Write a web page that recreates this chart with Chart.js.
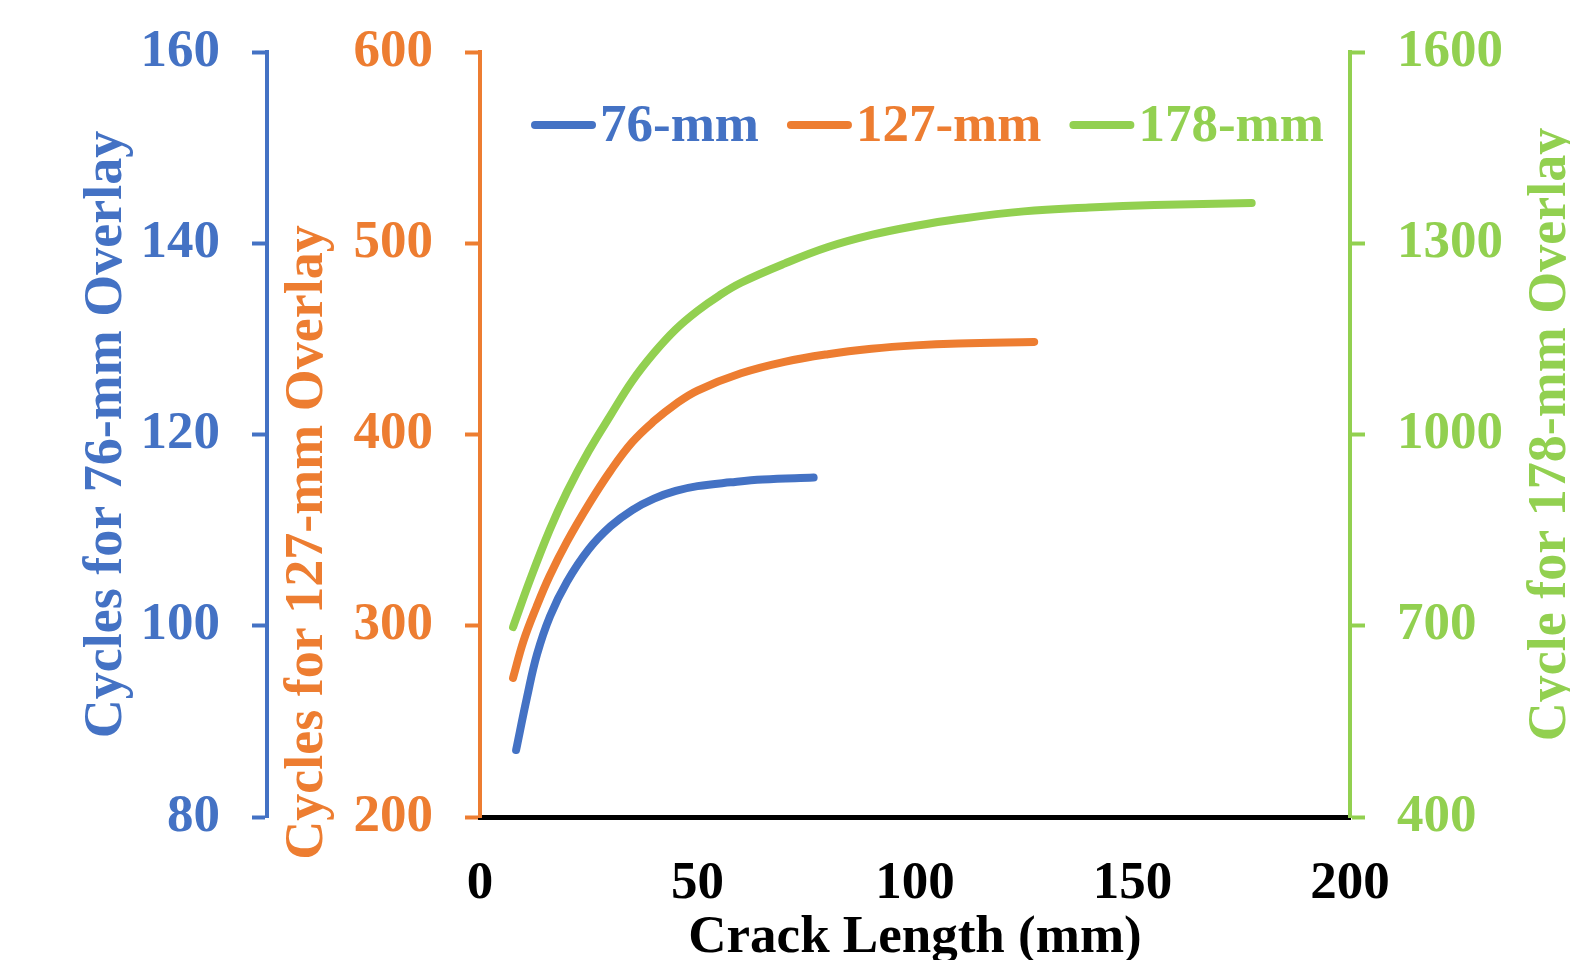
<!DOCTYPE html>
<html>
<head>
<meta charset="utf-8">
<script src="https://cdn.jsdelivr.net/npm/chart.js@4.4.0/dist/chart.umd.min.js"></script>
<style>
  html, body { margin: 0; padding: 0; background: #fff; }
</style>
</head>
<body>
<canvas id="myChart" width="1570" height="960"></canvas>
<script>
// values
const seriesLabels = ["76-mm", "127-mm", "178-mm"];

const crack76 = [8.3, 10.8, 13.1, 16.1, 20.0, 25.0, 30.0, 35.0, 40.0, 45.0, 50.0, 57.6, 65.0, 76.7];
const cycles76 = [87.0, 92.5, 97.0, 101.0, 104.6, 108.0, 110.4, 112.1, 113.3, 114.1, 114.6, 115.0, 115.3, 115.5];

const crack127 = [7.6, 10, 13, 16, 20, 25, 30, 35, 40, 45, 50, 60, 70, 80, 90, 100, 110, 127.4];
const cycles127 = [272.7, 292, 310, 326, 344, 363.5, 381, 396, 407, 416, 423, 432, 438, 442, 444.8, 446.6, 447.6, 448.4];

const crack178 = [7.6, 11.5, 16, 20, 25, 30, 35, 40, 45, 50, 55, 60, 70, 80, 90, 100, 110, 125, 140, 155, 177.4];
const cycles178 = [698, 772, 850, 910, 974, 1030, 1084, 1128, 1165, 1194, 1218, 1238, 1268, 1294, 1313, 1327, 1338, 1350, 1356, 1360, 1363];

const xTitle = "Crack Length (mm)";
const yTitles = ["Cycles for 76-mm Overlay", "Cycles for 127-mm Overlay", "Cycle for 178-mm Overlay"];

const BLUE = "#4472C4";
const ORANGE = "#ED7D31";
const GREEN = "#92D050";
const FONT = "Liberation Serif";

function pts(xs, ys) {
  return xs.map((x, i) => ({ x: x, y: ys[i] }));
}

function yAxis(pos, weight, color, min, max, step, width) {
  return {
    type: "linear",
    position: pos,
    weight: weight,
    min: min,
    max: max,
    ticks: {
      stepSize: step,
      color: color,
      padding: 32,
      format: { useGrouping: false },
      font: { family: FONT, size: 53, weight: "bold" },
    },
    grid: {
      drawOnChartArea: false,
      drawTicks: true,
      tickLength: 15,
      tickWidth: 4,
      tickColor: color,
    },
    border: { display: true, color: color, width: 4 },
    afterFit: (s) => {
      s.width = width;
      s.paddingTop = 0;
      s.paddingBottom = 0;
    },
  };
}

// axis titles drawn by hand so they read bottom-to-top on both sides
const axisTitles = {
  id: "axisTitles",
  afterDraw(chart) {
    const ctx = chart.ctx;
    const a = chart.chartArea;
    const mid = (a.top + a.bottom) / 2;
    const spots = [
      { text: yTitles[0], color: BLUE, x: chart.scales.yBlue.left + 121, y: mid },
      { text: yTitles[1], color: ORANGE, x: chart.scales.yOrange.left + 55, y: mid + 108 },
      { text: yTitles[2], color: GREEN, x: chart.scales.yGreen.right - 5, y: mid },
    ];
    ctx.save();
    ctx.font = "bold 54px '" + FONT + "'";
    ctx.textAlign = "center";
    ctx.textBaseline = "alphabetic";
    spots.forEach((t) => {
      ctx.save();
      ctx.translate(t.x, t.y);
      ctx.rotate(-Math.PI / 2);
      ctx.fillStyle = t.color;
      ctx.fillText(t.text, 0, 0);
      ctx.restore();
    });
    ctx.restore();
  },
};

// legend: short thick line then the label, inside the plot area
const lineLegend = {
  id: "lineLegend",
  afterDraw(chart) {
    const ctx = chart.ctx;
    const a = chart.chartArea;
    const y = a.top + 73;
    let x = a.left + 52;
    ctx.save();
    ctx.font = "bold 53px '" + FONT + "'";
    ctx.textBaseline = "middle";
    ctx.textAlign = "left";
    chart.data.datasets.forEach((ds) => {
      ctx.strokeStyle = ds.borderColor;
      ctx.lineWidth = 8;
      ctx.lineCap = "round";
      ctx.beginPath();
      ctx.moveTo(x + 3, y);
      ctx.lineTo(x + 60, y);
      ctx.stroke();
      ctx.fillStyle = ds.borderColor;
      ctx.fillText(ds.label, x + 68, y + 2);
      x += 68 + ctx.measureText(ds.label).width + 29;
    });
    ctx.restore();
  },
};

const ctx = document.getElementById("myChart").getContext("2d");
const myChart = new Chart(ctx, {
  type: "line",
  data: {
    datasets: [
      { label: seriesLabels[0], data: pts(crack76, cycles76), yAxisID: "yBlue", borderColor: BLUE },
      { label: seriesLabels[1], data: pts(crack127, cycles127), yAxisID: "yOrange", borderColor: ORANGE },
      { label: seriesLabels[2], data: pts(crack178, cycles178), yAxisID: "yGreen", borderColor: GREEN },
    ],
  },
  options: {
    responsive: false,
    animation: false,
    layout: { padding: { top: 52, left: 0, right: 0, bottom: 0 } },
    elements: {
      point: { radius: 0 },
      line: { borderWidth: 8, tension: 0.4, borderCapStyle: "round", borderJoinStyle: "round", fill: false },
    },
    plugins: {
      legend: { display: false },
      tooltip: { enabled: false },
    },
    scales: {
      x: {
        type: "linear",
        position: "bottom",
        min: 0,
        max: 200,
        ticks: {
          stepSize: 50,
          color: "#000",
          padding: 28,
          font: { family: FONT, size: 53, weight: "bold" },
        },
        grid: { display: false },
        border: { display: true, color: "#000", width: 5 },
        title: {
          display: true,
          text: xTitle,
          color: "#000",
          padding: { top: 0, bottom: -5 },
          font: { family: FONT, size: 53, weight: "bold", lineHeight: 1 },
        },
        afterFit: (s) => { s.height = 143; },
      },
      yBlue: yAxis("left", 2, BLUE, 80, 160, 20, 267),
      yOrange: yAxis("left", 1, ORANGE, 200, 600, 100, 213),
      yGreen: yAxis("right", 1, GREEN, 400, 1600, 300, 220),
    },
  },
  plugins: [axisTitles, lineLegend],
});
</script>
</body>
</html>
